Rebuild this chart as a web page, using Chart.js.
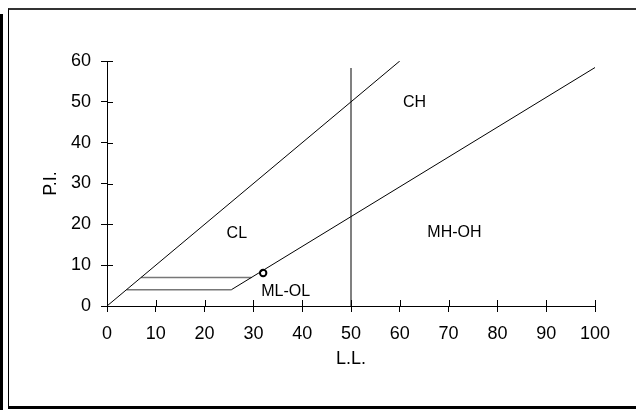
<!DOCTYPE html>
<html>
<head>
<meta charset="utf-8">
<script src="https://cdn.jsdelivr.net/npm/chart.js@4"></script>
<style>
    body { margin: 0; background: #fff; }
    #wrap { position: relative; width: 636px; height: 410px; overflow: hidden; }
    #frame {
        position: absolute; left: 8px; top: 8px; width: 628px; height: 401px;
        box-sizing: border-box;
        border-top: 2px solid #333;
        border-left: 1px solid #000;
        border-bottom: 3px solid #000;
    }
    #bar { position: absolute; left: 0; top: 14px; width: 3px; height: 396px; background: #000; }
    #chart { position: absolute; left: 0; top: 0; }
</style>
</head>
<body>
<div id="wrap">
    <div id="frame"></div>
    <div id="bar"></div>
    <canvas id="chart" width="636" height="410"></canvas>
</div>
<script>
// Plasticity chart (P.I. vs L.L.)

const xRange = [0, 100];
const yRange = [0, 60];
const tickStep = 10;

// boundary lines
const uLineLL = [0, 60];
const uLinePI = [0, 60];
const aLineLL = [25.5, 100];
const aLinePI = [4, 58.4];
const lowBandLL = [4, 25.5];
const lowBandPI = [4, 4];
const highBandLL = [7, 29.6];
const highBandPI = [7, 7];
const dividerLL = [50, 50];
const dividerPI = [0, 58.3];

// sample
const sampleLL = [32];
const samplePI = [8.1];

// zone names and where they sit (chart units)
const zoneNames = ['CL', 'CH', 'MH-OH', 'ML-OL'];
const zoneLL = [26.6, 63.0, 71.2, 36.6];
const zonePI = [17.8, 49.8, 18.0, 3.5];

const FONT = "'Liberation Sans', Arial, sans-serif";
const TICK_IN = 6;

function pts(xs, ys) {
    return xs.map((x, i) => ({ x: x, y: ys[i] }));
}

function lineSet(xs, ys, color, width) {
    return {
        data: pts(xs, ys),
        showLine: true,
        borderColor: color,
        borderWidth: width,
        pointRadius: 0,
        fill: false
    };
}

// ticks crossing into the plot + zone names
const extrasPlugin = {
    id: 'extras',
    afterDatasetsDraw(chart) {
        const ctx = chart.ctx;
        const xs = chart.scales.x;
        const ys = chart.scales.y;
        const area = chart.chartArea;
        ctx.save();
        ctx.strokeStyle = '#000';
        ctx.lineWidth = 1;
        ctx.beginPath();
        xs.ticks.forEach(t => {
            const px = Math.round(xs.getPixelForValue(t.value)) + 0.5;
            ctx.moveTo(px, area.bottom);
            ctx.lineTo(px, area.bottom - TICK_IN);
        });
        ys.ticks.forEach(t => {
            const py = Math.round(ys.getPixelForValue(t.value)) + 0.5;
            ctx.moveTo(area.left, py);
            ctx.lineTo(area.left + TICK_IN, py);
        });
        ctx.stroke();

        ctx.fillStyle = '#000';
        ctx.font = '16px ' + FONT;
        ctx.textAlign = 'center';
        ctx.textBaseline = 'middle';
        zoneNames.forEach((name, i) => {
            ctx.fillText(name, xs.getPixelForValue(zoneLL[i]), ys.getPixelForValue(zonePI[i]));
        });
        ctx.restore();
    }
};

const ctx = document.getElementById('chart').getContext('2d');
new Chart(ctx, {
    type: 'scatter',
    data: {
        datasets: [
            lineSet(uLineLL, uLinePI, '#000', 1),
            lineSet(aLineLL, aLinePI, '#000', 1),
            lineSet(lowBandLL, lowBandPI, '#777', 1.5),
            lineSet(highBandLL, highBandPI, '#777', 1.5),
            lineSet(dividerLL, dividerPI, '#808080', 2),
            {
                data: pts(sampleLL, samplePI),
                pointRadius: 3.2,
                pointBorderWidth: 2,
                pointBackgroundColor: '#fff',
                pointBorderColor: '#000'
            }
        ]
    },
    options: {
        responsive: false,
        animation: false,
        devicePixelRatio: 1,
        layout: { padding: { top: 61, right: 41, bottom: 0, left: 0 } },
        plugins: {
            legend: { display: false },
            tooltip: { enabled: false }
        },
        scales: {
            x: {
                type: 'linear',
                min: xRange[0],
                max: xRange[1],
                afterFit(scale) { scale.height = 104; },
                grid: { drawOnChartArea: false, tickLength: 6, color: '#000' },
                border: { color: '#000', width: 1 },
                ticks: {
                    stepSize: tickStep,
                    color: '#000',
                    padding: 11,
                    maxRotation: 0,
                    font: { family: FONT, size: 18 }
                },
                title: {
                    display: true,
                    text: 'L.L.',
                    color: '#000',
                    padding: { top: 0, bottom: 40 },
                    font: { family: FONT, size: 18 }
                }
            },
            y: {
                type: 'linear',
                min: yRange[0],
                max: yRange[1],
                afterFit(scale) { scale.width = 107; },
                grid: { drawOnChartArea: false, tickLength: 6, color: '#000' },
                border: { color: '#000', width: 1 },
                ticks: {
                    stepSize: tickStep,
                    color: '#000',
                    padding: 10,
                    font: { family: FONT, size: 18 }
                },
                title: {
                    display: true,
                    text: 'P.I.',
                    color: '#000',
                    padding: { top: 40, bottom: 0 },
                    font: { family: FONT, size: 18 }
                }
            }
        }
    },
    plugins: [extrasPlugin]
});
</script>
</body>
</html>
